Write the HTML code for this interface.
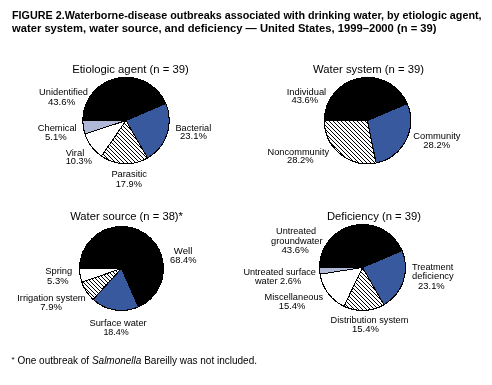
<!DOCTYPE html>
<html><head><meta charset="utf-8"><style>
html,body{margin:0;padding:0;background:#fff;}
svg{display:block;will-change:transform;}
text{font-family:"Liberation Sans",sans-serif;fill:#000;}
</style></head><body>
<svg width="492" height="385" viewBox="0 0 492 385">
<defs><pattern id="hatch" patternUnits="userSpaceOnUse" width="4" height="4">
<rect width="4" height="4" fill="#fff"/>
<rect x="1" y="0" width="1" height="1" fill="#000"/><rect x="2" y="1" width="1" height="1" fill="#000"/><rect x="3" y="2" width="1" height="1" fill="#000"/><rect x="0" y="3" width="1" height="1" fill="#000"/>
</pattern>
<pattern id="hatch2" patternUnits="userSpaceOnUse" width="4" height="4">
<rect width="4" height="4" fill="#fff"/>
<rect x="0" y="0" width="1" height="1" fill="#000"/><rect x="1" y="1" width="1" height="1" fill="#000"/><rect x="2" y="2" width="1" height="1" fill="#000"/><rect x="3" y="3" width="1" height="1" fill="#000"/>
</pattern></defs>
<rect width="492" height="385" fill="#fff"/>
<text x="12" y="18.6" font-size="11.8" font-weight="bold" textLength="469.6" lengthAdjust="spacingAndGlyphs">FIGURE 2.Waterborne-disease outbreaks associated with drinking water, by etiologic agent,</text>
<text x="12" y="32.1" font-size="11.8" font-weight="bold" textLength="424.5" lengthAdjust="spacingAndGlyphs">water system, water source, and deficiency — United States, 1999–2000 (n = 39)</text>
<path d="M126.00,120.50 L82.75,120.50 A43.25,43.25 0 0 1 165.80,103.57 Z" fill="#000" stroke="#000" stroke-width="1" stroke-linejoin="round" shape-rendering="crispEdges"/>
<path d="M126.00,120.50 L165.80,103.57 A43.25,43.25 0 0 1 147.55,158.00 Z" fill="#39599e" stroke="#000" stroke-width="1" stroke-linejoin="round" shape-rendering="crispEdges"/>
<path d="M126.00,120.50 L147.55,158.00 A43.25,43.25 0 0 1 101.47,156.12 Z" fill="url(#hatch)" stroke="#000" stroke-width="1" stroke-linejoin="round" shape-rendering="crispEdges"/>
<path d="M126.00,120.50 L101.47,156.12 A43.25,43.25 0 0 1 84.95,134.12 Z" fill="#fff" stroke="#000" stroke-width="1" stroke-linejoin="round" shape-rendering="crispEdges"/>
<path d="M126.00,120.50 L84.95,134.12 A43.25,43.25 0 0 1 82.75,120.50 Z" fill="#b0b8d8" stroke="#000" stroke-width="1" stroke-linejoin="round" shape-rendering="crispEdges"/>
<circle cx="126" cy="120.5" r="43.25" fill="none" stroke="#000" stroke-width="1" shape-rendering="crispEdges"/>
<path d="M367.50,120.60 L324.30,120.60 A43.20,43.20 0 0 1 407.25,103.69 Z" fill="#000" stroke="#000" stroke-width="1" stroke-linejoin="round" shape-rendering="crispEdges"/>
<path d="M367.50,120.60 L407.25,103.69 A43.20,43.20 0 0 1 376.13,162.93 Z" fill="#39599e" stroke="#000" stroke-width="1" stroke-linejoin="round" shape-rendering="crispEdges"/>
<path d="M367.50,120.60 L376.13,162.93 A43.20,43.20 0 0 1 324.30,120.60 Z" fill="url(#hatch2)" stroke="#000" stroke-width="1" stroke-linejoin="round" shape-rendering="crispEdges"/>
<circle cx="367.5" cy="120.6" r="43.2" fill="none" stroke="#000" stroke-width="1" shape-rendering="crispEdges"/>
<path d="M121.50,268.50 L79.50,268.50 A42.00,42.00 0 1 1 138.42,306.94 Z" fill="#000" stroke="#000" stroke-width="1" stroke-linejoin="round" shape-rendering="crispEdges"/>
<path d="M121.50,268.50 L138.42,306.94 A42.00,42.00 0 0 1 93.14,299.48 Z" fill="#39599e" stroke="#000" stroke-width="1" stroke-linejoin="round" shape-rendering="crispEdges"/>
<path d="M121.50,268.50 L93.14,299.48 A42.00,42.00 0 0 1 81.81,282.23 Z" fill="url(#hatch)" stroke="#000" stroke-width="1" stroke-linejoin="round" shape-rendering="crispEdges"/>
<path d="M121.50,268.50 L81.81,282.23 A42.00,42.00 0 0 1 79.50,268.50 Z" fill="#fff" stroke="#000" stroke-width="1" stroke-linejoin="round" shape-rendering="crispEdges"/>
<circle cx="121.5" cy="268.5" r="42" fill="none" stroke="#000" stroke-width="1" shape-rendering="crispEdges"/>
<path d="M362.50,267.50 L319.50,267.50 A43.00,43.00 0 0 1 402.07,250.67 Z" fill="#000" stroke="#000" stroke-width="1" stroke-linejoin="round" shape-rendering="crispEdges"/>
<path d="M362.50,267.50 L402.07,250.67 A43.00,43.00 0 0 1 383.92,304.78 Z" fill="#39599e" stroke="#000" stroke-width="1" stroke-linejoin="round" shape-rendering="crispEdges"/>
<path d="M362.50,267.50 L383.92,304.78 A43.00,43.00 0 0 1 343.95,306.29 Z" fill="url(#hatch)" stroke="#000" stroke-width="1" stroke-linejoin="round" shape-rendering="crispEdges"/>
<path d="M362.50,267.50 L343.95,306.29 A43.00,43.00 0 0 1 320.03,274.23 Z" fill="#fff" stroke="#000" stroke-width="1" stroke-linejoin="round" shape-rendering="crispEdges"/>
<path d="M362.50,267.50 L320.03,274.23 A43.00,43.00 0 0 1 319.50,267.23 Z" fill="#b0b8d8" stroke="#000" stroke-width="1" stroke-linejoin="round" shape-rendering="crispEdges"/>
<circle cx="362.5" cy="267.5" r="43" fill="none" stroke="#000" stroke-width="1" shape-rendering="crispEdges"/>
<text x="72.2" y="72.8" font-size="11.5" font-weight="normal" font-style="normal" textLength="116.6" lengthAdjust="spacingAndGlyphs">Etiologic agent (n = 39)</text>
<text x="313.1" y="73.3" font-size="11.5" font-weight="normal" font-style="normal" textLength="111.0" lengthAdjust="spacingAndGlyphs">Water system (n = 39)</text>
<text x="70.2" y="219.9" font-size="11.5" font-weight="normal" font-style="normal" textLength="112.8" lengthAdjust="spacingAndGlyphs">Water source (n = 38)*</text>
<text x="327.0" y="220.1" font-size="11.5" font-weight="normal" font-style="normal" textLength="94.0" lengthAdjust="spacingAndGlyphs">Deficiency (n = 39)</text>
<text x="39.1" y="94.6" font-size="9.5" font-weight="normal" font-style="normal" textLength="48.9" lengthAdjust="spacingAndGlyphs">Unidentified</text>
<text x="47.9" y="104.5" font-size="9.5" font-weight="normal" font-style="normal" textLength="27.3" lengthAdjust="spacingAndGlyphs">43.6%</text>
<text x="37.7" y="131.0" font-size="9.5" font-weight="normal" font-style="normal" textLength="39.0" lengthAdjust="spacingAndGlyphs">Chemical</text>
<text x="45.0" y="139.5" font-size="9.5" font-weight="normal" font-style="normal" textLength="21.7" lengthAdjust="spacingAndGlyphs">5.1%</text>
<text x="65.7" y="155.6" font-size="9.5" font-weight="normal" font-style="normal" textLength="18.6" lengthAdjust="spacingAndGlyphs">Viral</text>
<text x="65.7" y="164.1" font-size="9.5" font-weight="normal" font-style="normal" textLength="26.2" lengthAdjust="spacingAndGlyphs">10.3%</text>
<text x="111.4" y="176.5" font-size="9.5" font-weight="normal" font-style="normal" textLength="35.6" lengthAdjust="spacingAndGlyphs">Parasitic</text>
<text x="115.7" y="186.6" font-size="9.5" font-weight="normal" font-style="normal" textLength="26.2" lengthAdjust="spacingAndGlyphs">17.9%</text>
<text x="175.4" y="130.9" font-size="9.5" font-weight="normal" font-style="normal" textLength="35.9" lengthAdjust="spacingAndGlyphs">Bacterial</text>
<text x="180.0" y="139.4" font-size="9.5" font-weight="normal" font-style="normal" textLength="27.0" lengthAdjust="spacingAndGlyphs">23.1%</text>
<text x="286.7" y="94.7" font-size="9.5" font-weight="normal" font-style="normal" textLength="39.5" lengthAdjust="spacingAndGlyphs">Individual</text>
<text x="291.4" y="103.4" font-size="9.5" font-weight="normal" font-style="normal" textLength="26.7" lengthAdjust="spacingAndGlyphs">43.6%</text>
<text x="413.2" y="138.7" font-size="9.5" font-weight="normal" font-style="normal" textLength="47.3" lengthAdjust="spacingAndGlyphs">Community</text>
<text x="423.3" y="147.8" font-size="9.5" font-weight="normal" font-style="normal" textLength="26.8" lengthAdjust="spacingAndGlyphs">28.2%</text>
<text x="267.5" y="155.0" font-size="9.5" font-weight="normal" font-style="normal" textLength="61.6" lengthAdjust="spacingAndGlyphs">Noncommunity</text>
<text x="287.0" y="163.3" font-size="9.5" font-weight="normal" font-style="normal" textLength="26.7" lengthAdjust="spacingAndGlyphs">28.2%</text>
<text x="45.2" y="273.8" font-size="9.5" font-weight="normal" font-style="normal" textLength="27.1" lengthAdjust="spacingAndGlyphs">Spring</text>
<text x="47.1" y="283.6" font-size="9.5" font-weight="normal" font-style="normal" textLength="21.4" lengthAdjust="spacingAndGlyphs">5.3%</text>
<text x="17.2" y="301.0" font-size="9.5" font-weight="normal" font-style="normal" textLength="68.4" lengthAdjust="spacingAndGlyphs">Irrigation system</text>
<text x="40.3" y="310.4" font-size="9.5" font-weight="normal" font-style="normal" textLength="21.7" lengthAdjust="spacingAndGlyphs">7.9%</text>
<text x="89.5" y="325.9" font-size="9.5" font-weight="normal" font-style="normal" textLength="57.2" lengthAdjust="spacingAndGlyphs">Surface water</text>
<text x="103.4" y="334.7" font-size="9.5" font-weight="normal" font-style="normal" textLength="25.4" lengthAdjust="spacingAndGlyphs">18.4%</text>
<text x="173.8" y="253.7" font-size="9.5" font-weight="normal" font-style="normal" textLength="18.5" lengthAdjust="spacingAndGlyphs">Well</text>
<text x="170.1" y="263.4" font-size="9.5" font-weight="normal" font-style="normal" textLength="26.5" lengthAdjust="spacingAndGlyphs">68.4%</text>
<text x="276.1" y="233.8" font-size="9.5" font-weight="normal" font-style="normal" textLength="40.0" lengthAdjust="spacingAndGlyphs">Untreated</text>
<text x="271.1" y="244.0" font-size="9.5" font-weight="normal" font-style="normal" textLength="51.5" lengthAdjust="spacingAndGlyphs">groundwater</text>
<text x="281.4" y="252.5" font-size="9.5" font-weight="normal" font-style="normal" textLength="27.4" lengthAdjust="spacingAndGlyphs">43.6%</text>
<text x="243.4" y="275.0" font-size="9.5" font-weight="normal" font-style="normal" textLength="72.5" lengthAdjust="spacingAndGlyphs">Untreated surface</text>
<text x="254.9" y="284.1" font-size="9.5" font-weight="normal" font-style="normal" textLength="46.3" lengthAdjust="spacingAndGlyphs">water 2.6%</text>
<text x="264.6" y="300.2" font-size="9.5" font-weight="normal" font-style="normal" textLength="58.6" lengthAdjust="spacingAndGlyphs">Miscellaneous</text>
<text x="278.7" y="309.2" font-size="9.5" font-weight="normal" font-style="normal" textLength="26.8" lengthAdjust="spacingAndGlyphs">15.4%</text>
<text x="412.1" y="269.8" font-size="9.5" font-weight="normal" font-style="normal" textLength="41.2" lengthAdjust="spacingAndGlyphs">Treatment</text>
<text x="412.1" y="278.5" font-size="9.5" font-weight="normal" font-style="normal" textLength="41.6" lengthAdjust="spacingAndGlyphs">deficiency</text>
<text x="418.1" y="289.0" font-size="9.5" font-weight="normal" font-style="normal" textLength="26.6" lengthAdjust="spacingAndGlyphs">23.1%</text>
<text x="330.6" y="322.9" font-size="9.5" font-weight="normal" font-style="normal" textLength="77.8" lengthAdjust="spacingAndGlyphs">Distribution system</text>
<text x="351.9" y="332.4" font-size="9.5" font-weight="normal" font-style="normal" textLength="27.0" lengthAdjust="spacingAndGlyphs">15.4%</text>
<text x="11.5" y="363.7" font-size="10"><tspan font-size="8" dy="-1.5">*</tspan><tspan dy="1.5"> One outbreak of </tspan><tspan font-style="italic">Salmonella</tspan> Bareilly was not included.</text>
</svg>
</body></html>
